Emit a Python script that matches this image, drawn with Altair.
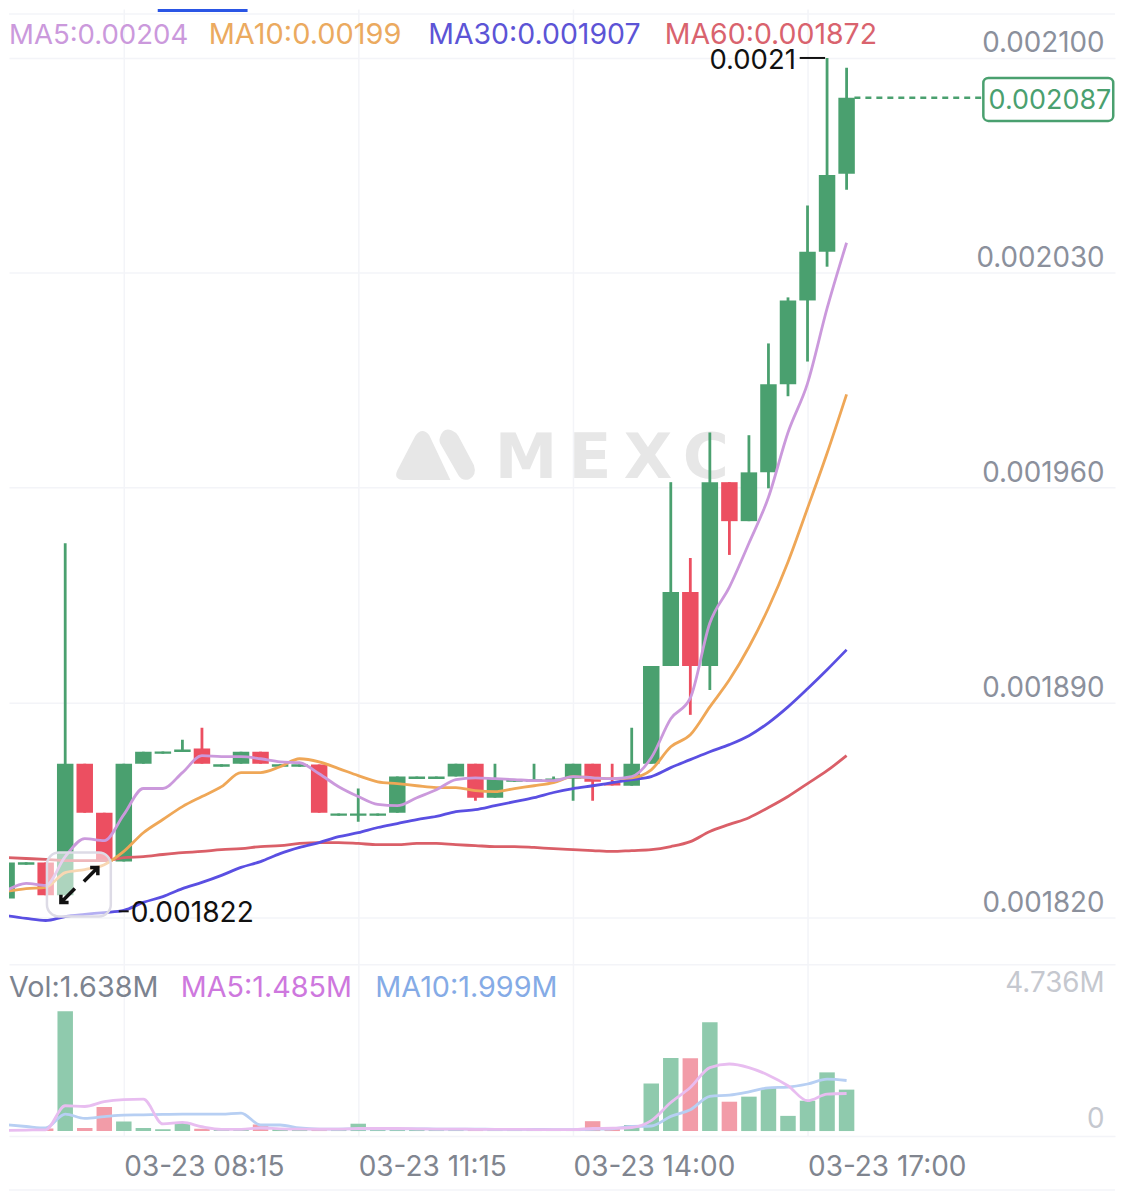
import json
import altair as alt
import pandas as pd

# Prices are in millionths (1e-6); volumes are in millions.
opens = [1826.2,1837.2,1837.9,1827.2,1870.1,1854.1,1838.2,1870.1,1873.3,1873.9,1875.0,1869.1,1870.1,1874.0,1869.1,1869.1,1869.8,1853.1,1853.1,1853.1,1854.1,1865.1,1865.1,1865.9,1870.1,1859.0,1864.2,1864.2,1864.5,1865.2,1870.1,1863.8,1862.9,1870.1,1901.9,1926.0,1901.9,1961.8,1949.1,1965.0,1993.7,2021.0,2036.9,2062.3]
closes = [1837.9,1838.0,1827.2,1870.1,1854.1,1838.2,1870.1,1874.0,1874.1,1874.7,1870.1,1869.9,1874.0,1870.1,1869.9,1869.9,1854.1,1853.9,1853.9,1853.9,1865.9,1865.9,1865.9,1870.1,1859.0,1865.2,1865.0,1865.0,1865.3,1870.1,1864.2,1863.0,1870.1,1901.9,1926.0,1901.9,1961.8,1949.1,1965.0,1993.7,2021.0,2036.9,2061.9,2087.0]
highs = [1837.9,1838.0,1837.9,1941.9,1870.1,1854.1,1870.1,1874.0,1874.1,1877.9,1881.8,1869.9,1874.0,1874.0,1869.9,1869.9,1869.8,1853.9,1862.0,1853.9,1865.9,1865.9,1865.9,1870.1,1870.1,1870.1,1865.0,1870.1,1865.9,1870.1,1870.1,1870.1,1881.8,1901.9,1961.8,1937.1,1978.0,1961.8,1977.1,2007.0,2022.0,2051.9,2100.0,2096.8]
lows = [1826.2,1837.2,1827.2,1827.2,1854.1,1838.2,1838.2,1870.1,1873.3,1873.9,1870.1,1869.1,1870.1,1870.1,1869.1,1869.1,1854.1,1853.1,1851.2,1853.1,1854.1,1865.1,1865.1,1865.9,1858.0,1859.0,1864.2,1864.2,1864.5,1858.0,1858.0,1863.0,1862.9,1870.1,1901.9,1886.0,1894.1,1938.1,1949.1,1959.8,1989.8,2001.1,2032.0,2057.1]
ma5 = [1828.8,1831.1,1830.4,1839.8,1845.7,1845.0,1853.5,1862.0,1862.0,1867.2,1872.7,1872.4,1872.4,1871.7,1870.7,1870.4,1866.8,1862.6,1859.4,1856.8,1856.4,1859.0,1861.6,1864.9,1865.5,1865.2,1864.9,1864.6,1864.6,1865.9,1865.5,1865.2,1865.9,1872.0,1884.7,1891.5,1915.9,1927.6,1941.9,1956.9,1978.0,1994.0,2018.4,2039.8]
ma10 = [1828.5,1829.4,1829.8,1834.6,1835.6,1837.2,1841.5,1847.6,1851.9,1856.1,1859.4,1862.6,1867.2,1867.2,1869.1,1871.7,1870.7,1868.5,1866.2,1864.2,1863.6,1862.9,1862.3,1862.3,1861.3,1861.0,1862.0,1862.9,1863.9,1865.9,1865.5,1865.2,1865.5,1868.1,1875.6,1879.5,1888.6,1897.4,1908.1,1920.8,1935.8,1953.3,1971.2,1990.4]
ma30 = [1820.6,1819.7,1819.0,1820.3,1821.0,1821.6,1822.3,1824.9,1826.8,1829.4,1831.4,1833.7,1836.3,1838.2,1840.8,1842.8,1844.4,1846.3,1847.6,1849.3,1850.6,1851.9,1852.9,1854.5,1855.1,1856.4,1857.7,1859.0,1860.7,1862.0,1862.9,1863.9,1864.9,1865.9,1868.8,1871.4,1874.0,1876.3,1879.2,1883.4,1888.6,1894.5,1900.7,1907.2]
ma60 = [1839.5,1839.2,1838.9,1838.5,1838.5,1838.5,1839.5,1839.8,1840.5,1841.1,1841.5,1842.1,1842.4,1843.1,1843.4,1844.1,1844.4,1844.4,1844.1,1843.7,1843.7,1844.1,1844.1,1843.7,1843.4,1843.1,1843.1,1842.8,1842.4,1842.1,1841.8,1841.5,1841.8,1842.1,1843.1,1844.7,1848.0,1850.3,1852.5,1855.8,1859.4,1863.6,1867.8,1872.7]
vol = [0.04,0.08,0.10,4.736,0.12,0.95,0.38,0.12,0.07,0.32,0.09,0.12,0.12,0.26,0.09,0.08,0.09,0.08,0.29,0.08,0.07,0.07,0.06,0.07,0.07,0.06,0.06,0.05,0.05,0.06,0.39,0.14,0.24,1.88,2.89,2.88,4.30,1.16,1.36,1.70,0.60,1.20,2.32,1.638]
vol_ma5 = [0.03,0.04,0.05,1.0,0.97,1.16,1.24,1.26,0.28,0.34,0.17,0.07,0.07,0.12,0.09,0.08,0.08,0.08,0.10,0.10,0.10,0.09,0.08,0.08,0.07,0.07,0.07,0.06,0.06,0.06,0.10,0.11,0.14,0.41,1.13,1.72,2.51,2.65,2.51,2.21,1.79,1.20,1.46,1.485]
vol_ma10 = [0.25,0.18,0.12,0.67,0.50,0.57,0.63,0.64,0.66,0.67,0.67,0.67,0.71,0.24,0.24,0.12,0.08,0.08,0.09,0.09,0.09,0.09,0.08,0.08,0.08,0.07,0.07,0.07,0.06,0.06,0.07,0.09,0.18,0.20,0.58,0.84,1.37,1.42,1.55,1.71,1.74,1.86,2.05,1.999]

tick_positions = [6, 18, 29, 41]
tick_labels = ["03-23 08:15", "03-23 11:15", "03-23 14:00", "03-23 17:00"]
price_ticks = [1820, 1890, 1960, 2030, 2100]
volume_ticks = [0, 4.736]

GREEN, RED = "#4AA06F", "#EC4F61"
V_GREEN, V_RED = "#8FCAAD", "#F29CA8"
GRID = "#F3F4F8"
FONT = "Inter"
FS = 27.8

df = pd.DataFrame({
    "i": range(len(opens)), "open": opens, "close": closes, "high": highs, "low": lows,
    "ma5": ma5, "ma10": ma10, "ma30": ma30, "ma60": ma60,
    "vol": vol, "vol_ma5": vol_ma5, "vol_ma10": vol_ma10,
})
df["dir"] = ["down" if c < o else "up" for o, c in zip(opens, closes)]
df["top"] = df[["open", "close"]].max(axis=1)
df["bot"] = df[["open", "close"]].min(axis=1)
df["zero"] = 0

x_scale = alt.Scale(domain=[0.1226, 56.74], nice=False, zero=False, padding=0)
y_scale = alt.Scale(domain=[1804.72, 2115.93], nice=False, zero=False, padding=0)
v_scale = alt.Scale(domain=[-0.197, 6.591], nice=False, zero=False, padding=0)
dir_scale = alt.Scale(domain=["up", "down"], range=[GREEN, RED])
vdir_scale = alt.Scale(domain=["up", "down"], range=[V_GREEN, V_RED])

X = alt.X("i:Q", scale=x_scale, title=None)
XA = lambda f: alt.X(f"{f}:Q", scale=x_scale, title=None)
Y = lambda f: alt.Y(f"{f}:Q", scale=y_scale, title=None)
V = lambda f: alt.Y(f"{f}:Q", scale=v_scale, title=None)
W, PH, VH = 1108, 957, 172


def chrome(text, px, py, color, size=FS, align="left", top=8):
    return alt.Chart(df.head(1)).mark_text(
        text=text, font=FONT, fontSize=size, color=color, align=align, baseline="alphabetic"
    ).encode(x=alt.value(px - 8), y=alt.value(py - top))


def note(rows):
    return pd.DataFrame(rows)

# ---------------- price panel ----------------
axes = alt.Chart(df).mark_point(opacity=0, size=1, clip=True).encode(
    x=alt.X("i:Q", scale=x_scale, title=None, axis=alt.Axis(
        values=tick_positions, labels=False, ticks=False, tickSize=0, domain=True,
        domainColor=GRID, domainWidth=1.5, grid=True, gridColor=GRID, gridWidth=1.5, title=None)),
    y=alt.Y("close:Q", scale=y_scale, title=None, axis=alt.Axis(
        orient="right", values=price_ticks, labelExpr="format(datum.value/1e6,'.6f')",
        domain=False, ticks=False, tickSize=0, grid=True, gridColor=GRID, gridWidth=1.5,
        labelFont=FONT, labelFontSize=FS, labelColor="#8B909C", labelAlign="right",
        labelBaseline="alphabetic", labelPadding=-11, labelOffset=-6, title=None)),
)
top_line = alt.Chart(note([{"p": 2114.3}])).mark_rule(color=GRID, strokeWidth=1.5).encode(y=Y("p"))

logo_path = ("M-0.95 0.38 L-0.5 -0.48 Q-0.33 -0.72 -0.15 -0.5 L0.38 0.62 L-0.8 0.62 Q-1.05 0.6 -0.95 0.38 Z "
             "M0.12 -0.45 Q0.2 -0.72 0.42 -0.62 Q0.52 -0.58 0.58 -0.48 L0.97 0.25 Q1.05 0.5 0.85 0.6 "
             "Q0.68 0.66 0.58 0.5 L0.15 -0.25 Q0.08 -0.35 0.12 -0.45 Z")
logo = alt.Chart(df.head(1)).mark_point(shape=logo_path, filled=True, size=6400, color="#E7E7E7", opacity=1).encode(
    x=alt.value(435 - 8), y=alt.value(455 - 8))
mark_letters = note([{"c": c, "i": i} for c, i in zip("MEXC", [26.59, 29.86, 32.83, 35.79])])
wm = alt.Chart(mark_letters).mark_text(font="DejaVu Sans", fontSize=63, fontWeight="bold", color="#E7E7E7", baseline="alphabetic").encode(
    x=X, y=alt.value(478 - 8), text="c:N")

wicks = alt.Chart(df).mark_rule(strokeWidth=2.8, clip=True).encode(
    x=X, y=Y("low"), y2="high:Q", color=alt.Color("dir:N", scale=dir_scale, legend=None))
bodies = alt.Chart(df).mark_bar(size=16.5, orient="vertical", clip=True).encode(
    x=X, y=Y("bot"), y2="top:Q", color=alt.Color("dir:N", scale=dir_scale, legend=None))


def ma_line(field, color):
    return alt.Chart(df).mark_line(color=color, strokeWidth=2.8, interpolate="monotone", clip=True).encode(x=X, y=Y(field))


lines = [ma_line("ma60", "#DA5F68"), ma_line("ma30", "#5A4FE2"), ma_line("ma10", "#EFA757"), ma_line("ma5", "#CB99DC")]

high_rule = alt.Chart(note([{"a": 40.6, "b": 41.9, "p": 2100.0}])).mark_rule(color="#111111", strokeWidth=2).encode(
    x=XA("a"), x2="b:Q", y=Y("p"))
high_txt = alt.Chart(note([{"i": 40.4, "p": 2100.0, "t": "0.0021"}])).mark_text(
    font=FONT, fontSize=27.5, dy=3, color="#111111", align="right", baseline="middle").encode(x=X, y=Y("p"), text="t:N")
low_rule = alt.Chart(note([{"a": 5.74, "b": 6.25, "p": 1822.0}])).mark_rule(color="#111111", strokeWidth=2).encode(
    x=XA("a"), x2="b:Q", y=Y("p"))
low_txt = alt.Chart(note([{"i": 6.36, "p": 1822.0, "t": "0.001822"}])).mark_text(
    font=FONT, fontSize=28.2, dy=3, color="#111111", align="left", baseline="middle").encode(x=X, y=Y("p"), text="t:N")

last_rule = alt.Chart(note([{"a": 43.4, "b": 50.0, "p": 2087.0}])).mark_rule(color=GREEN, strokeWidth=2.5, strokeDash=[6, 5]).encode(
    x=XA("a"), x2="b:Q", y=Y("p"))
last_box = alt.Chart(note([{"a": 50.0, "b": 56.65, "p": 2093.5, "q": 2079.5}])).mark_rect(
    fill="white", stroke=GREEN, strokeWidth=2.5, cornerRadius=5).encode(
    x=XA("a"), x2="b:Q", y=Y("p"), y2="q:Q")
last_txt = alt.Chart(note([{"i": 50.27, "p": 2086.6, "t": "0.002087"}])).mark_text(
    font=FONT, fontSize=27, dy=2, color=GREEN, align="left", baseline="middle").encode(x=X, y=Y("p"), text="t:N")

tab_bar = alt.Chart(df.head(1)).mark_rect(color="#2A55E5").encode(
    x=alt.value(149), x2=alt.value(239), y=alt.value(0), y2=alt.value(3))

legend_top = [
    chrome("MA5:0.00204", 8, 43, "#CB99DC", size=27.6),
    chrome("MA10:0.00199", 208, 43, "#EBAA5F", size=29),
    chrome("MA30:0.001907", 428, 43, "#5C54D6", size=28.5),
    chrome("MA60:0.001872", 665, 43, "#D9636E", size=28.5),
]

expand_box = alt.Chart(df.head(1)).mark_rect(
    fill="white", fillOpacity=0.55, stroke="#DDDBE6", strokeWidth=2.5, cornerRadius=12).encode(
    x=alt.value(46 - 8), x2=alt.value(110 - 8), y=alt.value(853 - 8), y2=alt.value(917 - 8))
up_arrow = "M-1 1 L1 -1 M-0.1 -1 L1 -1 L1 0.1"
down_arrow = "M1 -1 L-1 1 M0.1 1 L-1 1 L-1 -0.1"
arrow_a = alt.Chart(df.head(1)).mark_point(shape=up_arrow, filled=False, size=196, stroke="#111111", strokeWidth=3.5, opacity=1).encode(
    x=alt.value(90 - 8), y=alt.value(875 - 8))
arrow_b = alt.Chart(df.head(1)).mark_point(shape=down_arrow, filled=False, size=196, stroke="#111111", strokeWidth=3.5, opacity=1).encode(
    x=alt.value(67 - 8), y=alt.value(896 - 8))

price_panel = alt.layer(
    axes, top_line, logo, wm, wicks, bodies, *lines,
    high_rule, high_txt, low_rule, low_txt, last_rule, last_box, last_txt,
    tab_bar, *legend_top, expand_box, arrow_a, arrow_b,
).properties(width=W, height=PH)

# ---------------- volume panel ----------------
label_expr = json.dumps(dict(zip(map(str, tick_positions), tick_labels))) + "[datum.value]"
v_axes = alt.Chart(df).mark_point(opacity=0, size=1, clip=True).encode(
    x=alt.X("i:Q", scale=x_scale, title=None, axis=alt.Axis(
        values=tick_positions, labelExpr=label_expr, ticks=False, tickSize=0, domain=True,
        domainColor=GRID, domainWidth=1.5, grid=True, gridColor=GRID, gridWidth=1.5,
        labelFont=FONT, labelFontSize=28, labelColor="#80858F", labelAlign="left",
        labelBaseline="alphabetic", labelPadding=40, labelFlush=False, labelOverlap=False, title=None)),
    y=alt.Y("vol:Q", scale=v_scale, title=None, axis=alt.Axis(
        orient="right", values=volume_ticks,
        labelExpr="datum.value > 0 ? format(datum.value,'.3f') + 'M' : '0'",
        domain=False, ticks=False, tickSize=0, grid=False,
        labelFont=FONT, labelFontSize=FS, labelColor="#C5C8CF", labelAlign="right",
        labelBaseline="alphabetic", labelPadding=-11,
        labelOffset={"condition": {"test": "datum.value > 0", "value": -20}, "value": -4}, title=None)),
)
v_bars = alt.Chart(df).mark_bar(size=15.5, orient="vertical", clip=True).encode(
    x=X, y=V("zero"), y2="vol:Q", color=alt.Color("dir:N", scale=vdir_scale, legend=None))
v_ma5 = alt.Chart(df).mark_line(color="#E8BDF0", strokeWidth=2.8, interpolate="monotone", clip=True).encode(x=X, y=V("vol_ma5"))
v_ma10 = alt.Chart(df).mark_line(color="#B7CFF3", strokeWidth=2.8, interpolate="monotone", clip=True).encode(x=X, y=V("vol_ma10"))
bottom_line = alt.Chart(df.head(1)).mark_rule(color=GRID, strokeWidth=1.5).encode(
    x=alt.value(0), x2=alt.value(W), y=alt.value(1191 - 965))
legend_vol = [
    chrome("Vol:1.638M", 8, 998, "#7C838F", size=28.8, top=965),
    chrome("MA5:1.485M", 180, 998, "#CE78DE", size=28.8, top=965),
    chrome("MA10:1.999M", 375, 998, "#85ABE6", size=28.8, top=965),
]
volume_panel = alt.layer(v_axes, v_bars, v_ma10, v_ma5, bottom_line, *legend_vol).properties(width=W, height=VH)

chart = alt.vconcat(price_panel, volume_panel, spacing=0).resolve_scale(color="independent").properties(
    padding=0, background="white"
).configure_view(stroke=None)

chart.save("out.html", embed_options={"renderer": "svg", "actions": False})
